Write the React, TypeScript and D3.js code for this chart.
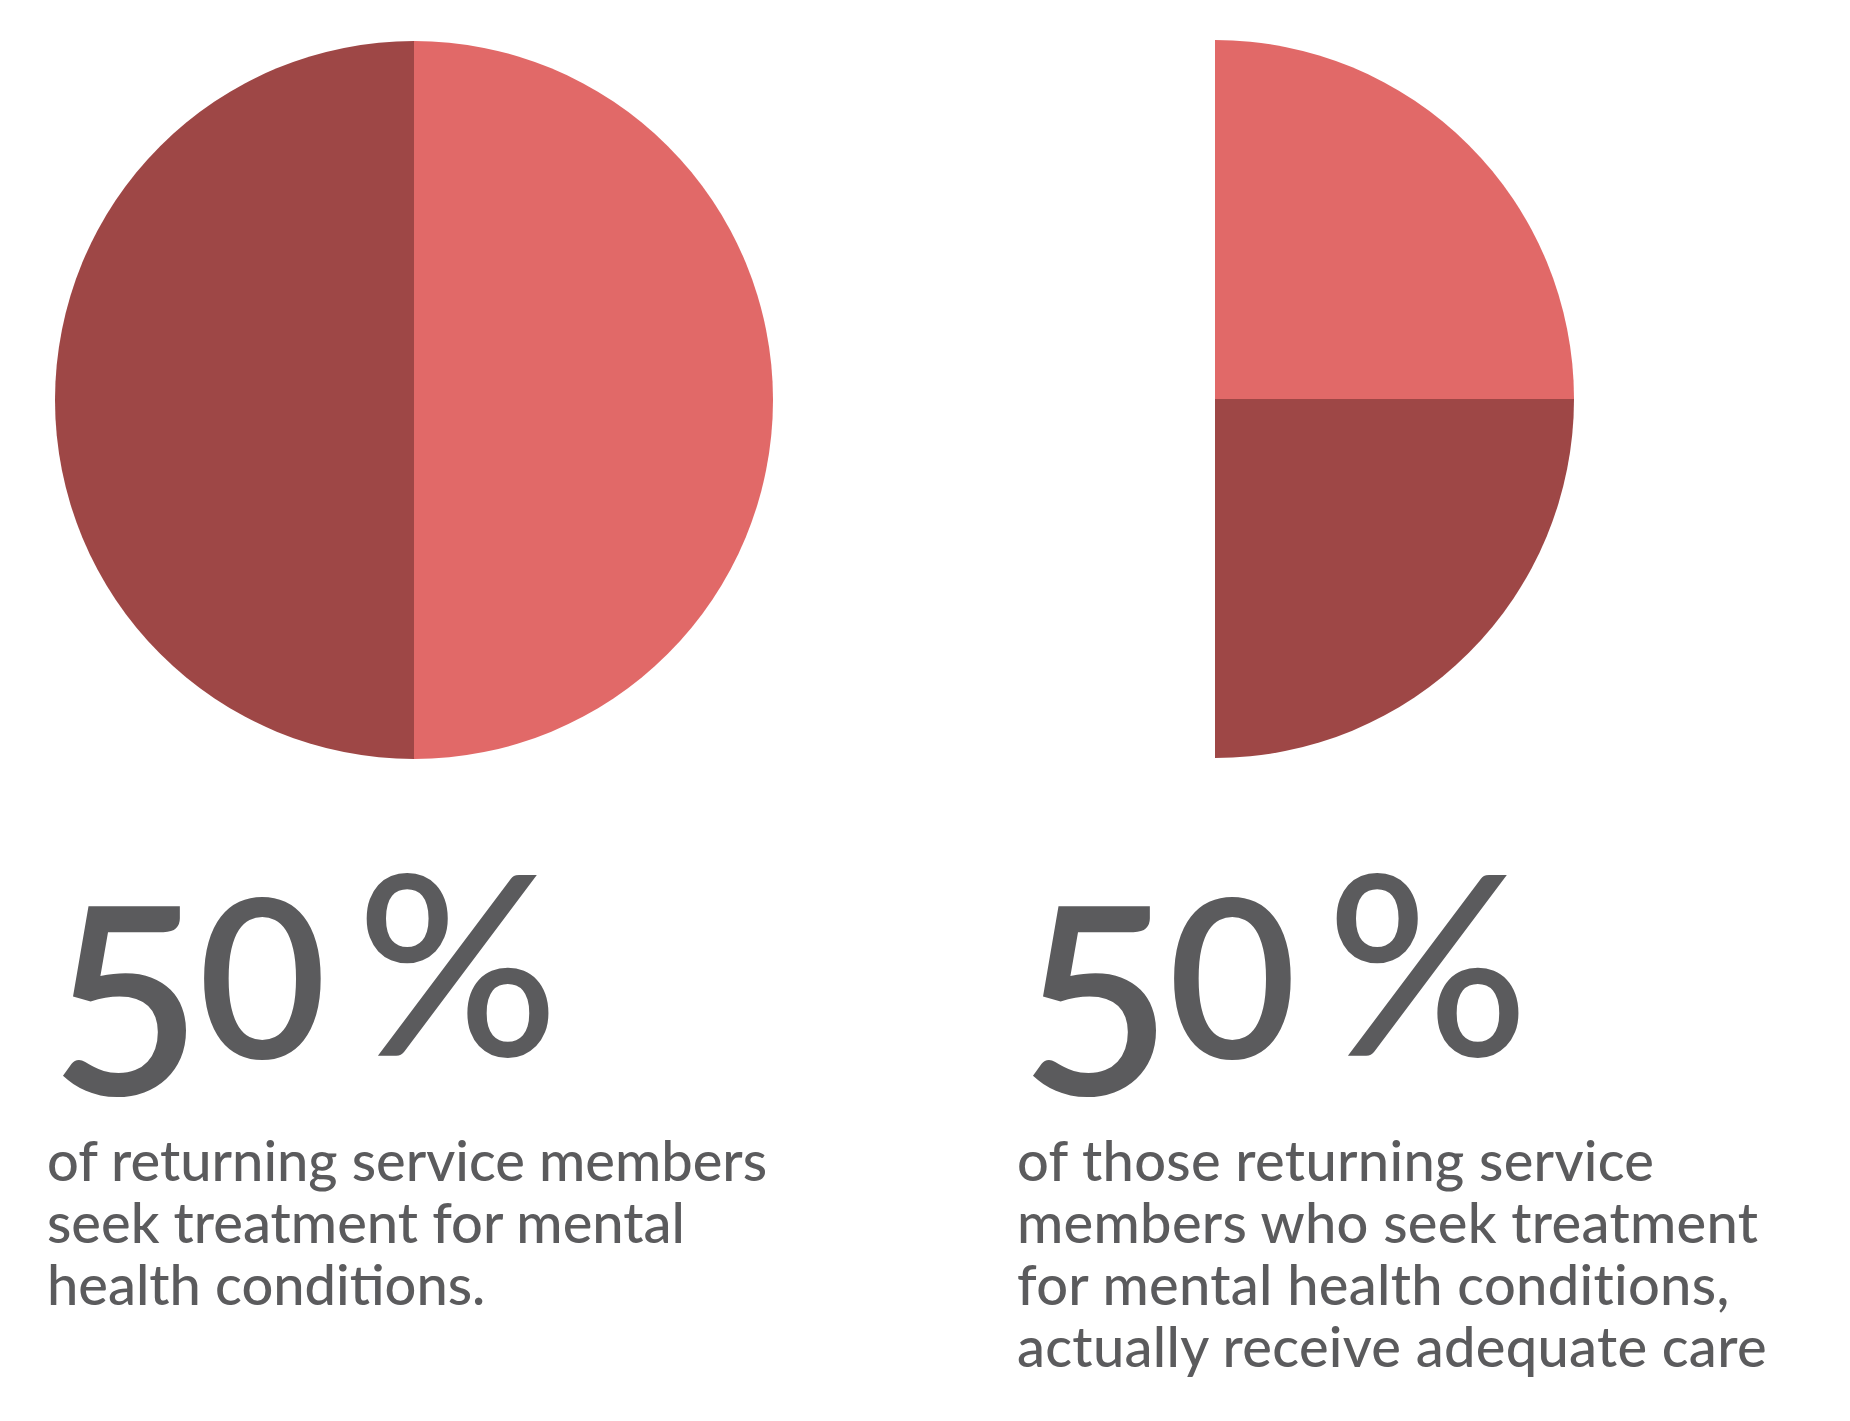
import React from "react";
import * as d3 from "d3";

const W = 1850;
const H = 1421;

// Pie 1: all returning service members
const pie1Labels = ["Seek treatment", "Do not seek treatment"];
const pie1Values = [50, 50];
// Pie 2: of those who seek treatment (half of the circle)
const pie2Labels = ["Receive adequate care", "Do not receive adequate care"];
const pie2Values = [50, 50];

const bigValues = ["50%", "50%"];
const captionLeft = [
  "of returning service members",
  "seek treatment for mental",
  "health conditions.",
];
const captionRight = [
  "of those returning service",
  "members who seek treatment",
  "for mental health conditions,",
  "actually receive adequate care",
];

const LIGHT = "#E16968";
const DARK = "#9E4746";
const TEXT = "#5B5B5D";

export default function App() {
  const r = 359;
  const arc = d3.arc<d3.PieArcDatum<number>>().innerRadius(0).outerRadius(r);

  const pie1 = d3.pie<number>().sort(null).startAngle(0).endAngle(2 * Math.PI)(pie1Values);
  const pie2 = d3.pie<number>().sort(null).startAngle(0).endAngle(Math.PI)(pie2Values);

  const colors = [LIGHT, DARK];

  const bigStyle: React.CSSProperties = {
    fontFamily: "Lato, 'Open Sans', sans-serif",
    fontWeight: 600,
    fill: TEXT,
  };
  const capStyle: React.CSSProperties = {
    fontFamily: "Lato, 'Open Sans', sans-serif",
    fontSize: 56,
    fontWeight: 500,
    fill: TEXT,
  };

  const renderBig = (x: number, label: string) => (
    <text style={bigStyle}>
      <tspan x={x} y={1095} style={{ fontSize: 262 }}>{label[0]}</tspan>
      <tspan x={x + 148} y={1058} style={{ fontSize: 222 }}>{label[1]}</tspan>
      <tspan x={x + 306} y={1056} style={{ fontSize: 252, fontWeight: 500 }}>{label.slice(2)}</tspan>
    </text>
  );

  return (
    <svg width={W} height={H} viewBox={`0 0 ${W} ${H}`} style={{ display: "block", position: "absolute", left: 0, top: 0, background: "#fff" }}>
      <rect width={W} height={H} fill="#fff" />
      <g transform="translate(414,400)">
        {pie1.map((d, i) => (
          <path key={pie1Labels[i]} d={arc(d) || ""} fill={colors[i]} />
        ))}
      </g>
      <g transform="translate(1215,399)">
        {pie2.map((d, i) => (
          <path key={pie2Labels[i]} d={arc(d) || ""} fill={colors[i]} />
        ))}
      </g>
      {renderBig(50, bigValues[0])}
      {renderBig(1020, bigValues[1])}
      {captionLeft.map((t, i) => (
        <text key={i} x={47} y={1181 + i * 62} style={capStyle}>{t}</text>
      ))}
      {captionRight.map((t, i) => (
        <text key={i} x={1017} y={1181 + i * 62} style={{ ...capStyle, letterSpacing: 0.3 }}>{t}</text>
      ))}
    </svg>
  );
}
